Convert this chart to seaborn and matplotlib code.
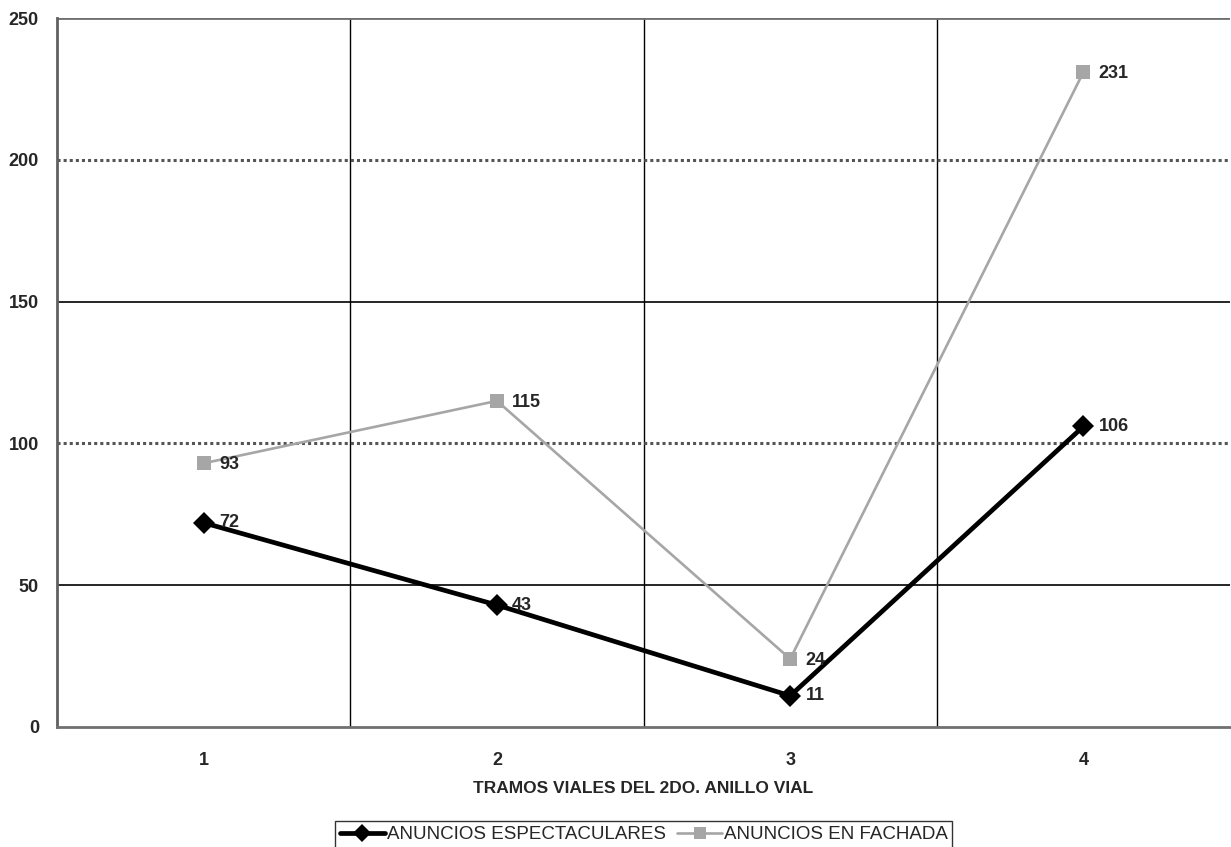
import matplotlib
matplotlib.use("Agg")
import matplotlib.pyplot as plt
import seaborn as sns
import pandas as pd
from matplotlib.lines import Line2D

tramos = [1, 2, 3, 4]
espectaculares = [72, 43, 11, 106]
fachada = [93, 115, 24, 231]
serie_names = ["ANUNCIOS ESPECTACULARES", "ANUNCIOS EN FACHADA"]
yticks = [0, 50, 100, 150, 200, 250]

df = pd.DataFrame({
    "tramo": tramos * 2,
    "valor": espectaculares + fachada,
    "serie": [serie_names[0]] * 4 + [serie_names[1]] * 4,
})

sns.set_theme(style="white")
plt.rcParams['font.family'] = ['Liberation Sans', 'DejaVu Sans']

fig = plt.figure(figsize=(12.31, 8.47), dpi=100)
ax = fig.add_axes([0.0463, 0.1417, 0.953, 0.837])

colors = {serie_names[0]: "#000000", serie_names[1]: "#a6a6a6"}
sns.lineplot(data=df, x="tramo", y="valor", hue="serie", palette=colors,
             style="serie", markers={serie_names[0]: "D", serie_names[1]: "s"},
             dashes=False, ax=ax, legend=False, zorder=5)
lines = ax.get_lines()
lines[0].set_linewidth(3.4); lines[0].set_markersize(11); lines[0].set_markeredgewidth(0)
lines[1].set_linewidth(1.9); lines[1].set_markersize(10); lines[1].set_markeredgewidth(0)

ax.set_xlim(0.5, 4.5)
ax.set_ylim(0, 250)
ax.set_xticks(tramos)
ax.set_xticklabels([str(t) for t in tramos], fontsize=13, fontweight="heavy")
ax.set_xticks([0.5, 1.5, 2.5, 3.5, 4.5], minor=True)
ax.set_yticks(yticks)
ax.set_yticklabels([str(v) for v in yticks], fontsize=13, fontweight="heavy")
ax.tick_params(axis="x", which="major", length=0, pad=18)
ax.tick_params(axis="x", which="minor", length=6, width=1, color="black", direction="out")
ax.tick_params(axis="y", length=5, width=1, color="#808080", direction="out", pad=8)

# vertical gridlines
for xv in [1.5, 2.5, 3.5]:
    ax.axvline(xv, color="black", lw=1, zorder=1)
# horizontal gridlines
for yv in yticks[1:]:
    if yv in (100, 200):
        ax.axhline(yv, color="#555555", lw=2.2, ls=(0, (1, 1)), zorder=1)
    elif yv == 250:
        ax.axhline(yv, color="#707070", lw=2, zorder=1)
    else:
        ax.axhline(yv, color="black", lw=1.2, zorder=1)

for s in ["top", "right"]:
    ax.spines[s].set_visible(False)
ax.spines["left"].set_color("#606060")
ax.spines["left"].set_linewidth(2)
ax.spines["bottom"].set_color("#707070")
ax.spines["bottom"].set_linewidth(2)

for x, v in zip(tramos, espectaculares):
    ax.annotate(str(v), (x, v), xytext=(11, 0), textcoords="offset points",
                fontsize=13, fontweight="bold", va="center", ha="left", zorder=6)
for x, v in zip(tramos, fachada):
    ax.annotate(str(v), (x, v), xytext=(11, -1), textcoords="offset points",
                fontsize=13, fontweight="bold", va="center", ha="left", zorder=6)

ax.set_xlabel("TRAMOS VIALES DEL 2DO. ANILLO VIAL", fontsize=12.5, fontweight="heavy", labelpad=9)
ax.set_ylabel("")

handles = [Line2D([], [], color="black", lw=3.4, marker="D", markersize=9, markeredgewidth=0),
           Line2D([], [], color="#a6a6a6", lw=1.9, marker="s", markersize=9, markeredgewidth=0)]
leg = fig.legend(handles, serie_names, loc="lower center", bbox_to_anchor=(0.523, -0.012),
                 ncol=2, frameon=True, fancybox=False, edgecolor="black", fontsize=13.5,
                 handlelength=2.4, handletextpad=0.1, columnspacing=0.6, borderpad=0.25)
leg.get_frame().set_linewidth(1)

fig.savefig("out.png", dpi=100)
